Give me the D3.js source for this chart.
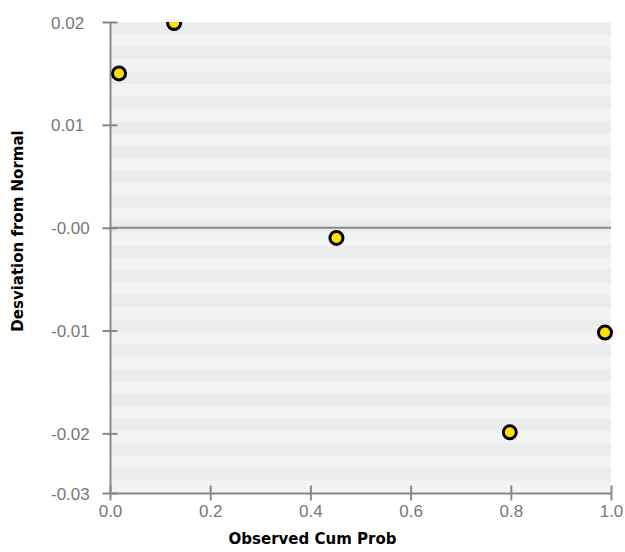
<!DOCTYPE html>
<html>
<head>
<meta charset="utf-8">
<script src="https://cdn.jsdelivr.net/npm/d3@7"></script>
<style>
  body { margin: 0; background: #fff; }
  svg { display: block; font-family: 'DejaVu Sans', Verdana, sans-serif; }
  .tick-label { fill: #777; font-size: 17px; }
  .axis-title { fill: #000; font-size: 15px; font-weight: bold; }
</style>
</head>
<body>
<svg width="625" height="552"></svg>
<script>
// observed cumulative probability vs deviation from normal
const cumProb   = [0.018, 0.128, 0.452, 0.798, 0.988];
const deviation = [0.0150, 0.0199, -0.0010, -0.0199, -0.0102];

const xTicks = [0, 0.2, 0.4, 0.6, 0.8, 1.0];
const yTicks = [0.02, 0.01, -0.00001, -0.01, -0.02, -0.0258];
const yTickLabels = ['0.02', '0.01', '-0.00', '-0.01', '-0.02', '-0.03'];

(function (d3) {
    'use strict';
    const svg = d3.select('svg');
    const width = +svg.attr('width');
    const height = +svg.attr('height');
    const margin = { top: 22, right: 14, bottom: 59, left: 110 };
    const innerWidth = width - margin.left - margin.right;
    const innerHeight = height - margin.top - margin.bottom;

    const xScale = d3.scaleLinear().domain([0, 1]).range([0, innerWidth]);
    const yScale = d3.scaleLinear().domain([-0.0258, 0.02]).range([innerHeight, 0]);

    const g = svg.append('g')
        .attr('transform', `translate(${margin.left}, ${margin.top})`);

    // striped background
    const nBands = 38;
    const bandH = innerHeight / nBands;
    g.selectAll('rect.band').data(d3.range(nBands))
      .enter().append('rect')
        .attr('class', 'band')
        .attr('x', 0)
        .attr('y', i => i * bandH)
        .attr('width', innerWidth)
        .attr('height', bandH + 0.5)
        .attr('fill', i => i % 2 === 0 ? '#ebecec' : '#f2f3f3');

    // zero line
    g.append('line')
        .attr('x1', 0).attr('x2', innerWidth)
        .attr('y1', yScale(0)).attr('y2', yScale(0))
        .attr('stroke', '#888').attr('stroke-width', 2);

    const styleAxis = sel => {
        sel.select('.domain').attr('stroke', '#888').attr('stroke-width', 2);
        sel.selectAll('.tick line').attr('stroke', '#888').attr('stroke-width', 2);
        sel.selectAll('.tick text').attr('class', 'tick-label').attr('fill', null);
    };

    const xAxis = d3.axisBottom(xScale)
        .tickValues(xTicks)
        .tickFormat(d3.format('.1f'))
        .tickSizeInner(7.5)
        .tickSizeOuter(0)
        .tickPadding(4);
    const xAxisG = g.append('g')
        .attr('transform', `translate(0, ${innerHeight})`)
        .call(xAxis)
        .call(styleAxis);
    xAxisG.selectAll('.tick line').attr('y1', -7.5);

    const yAxis = d3.axisLeft(yScale)
        .tickValues(yTicks)
        .tickFormat((d, i) => yTickLabels[i])
        .tickSizeInner(7.5)
        .tickSizeOuter(0);
    const yAxisG = g.append('g')
        .call(yAxis)
        .call(styleAxis);
    yAxisG.selectAll('.tick line').attr('x1', 7.5);
    // labels are left aligned in a column
    yAxisG.selectAll('.tick text')
        .attr('text-anchor', 'start')
        .attr('x', -59)
        .attr('dy', '0.36em');

    // points, clipped at plot top/bottom
    g.append('clipPath').attr('id', 'plot-clip')
      .append('rect')
        .attr('x', -10).attr('y', 0)
        .attr('width', innerWidth + 20).attr('height', innerHeight);

    g.append('g').attr('clip-path', 'url(#plot-clip)')
      .selectAll('circle').data(cumProb)
      .enter().append('circle')
        .attr('cx', d => xScale(d))
        .attr('cy', (d, i) => yScale(deviation[i]))
        .attr('r', 6.5)
        .attr('fill', '#ffe100')
        .attr('stroke', '#000')
        .attr('stroke-width', 3);

    svg.append('text')
        .attr('class', 'axis-title')
        .attr('x', width / 2)
        .attr('y', 544)
        .attr('text-anchor', 'middle')
        .text('Observed Cum Prob');

    svg.append('text')
        .attr('class', 'axis-title')
        .attr('transform', 'translate(23, 231) rotate(-90)')
        .attr('text-anchor', 'middle')
        .text('Desviation from Normal');
}(d3));
</script>
</body>
</html>
